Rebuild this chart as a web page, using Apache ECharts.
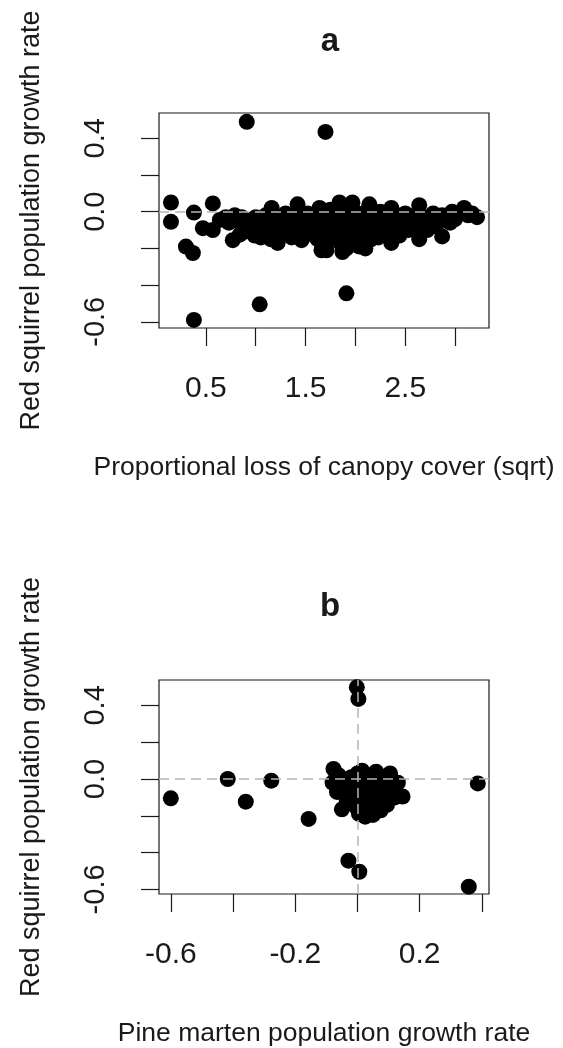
<!DOCTYPE html>
<html>
<head>
<meta charset="utf-8">
<script src="https://cdn.jsdelivr.net/npm/echarts@6/dist/echarts.min.js"></script>
<style>
   html, body { margin: 0; padding: 0; background: #fff; }
   #chart { width: 563px; height: 1048px; }
</style>
</head>
<body>
<div id="chart"></div>
<script>
// ── Panel a: canopy loss (sqrt) vs red squirrel growth rate ──────────────────
const canopyX = [
   0.15, 0.15, 0.38, 0.30, 0.37, 0.38, 0.47, 0.57, 0.57, 0.64, 0.77, 0.79, 0.84, 0.91, 0.96, 1.04, 1.70, 1.91,
   0.70, 0.73, 0.82, 0.86, 0.99, 1.05, 1.15, 1.30,
   0.88, 0.93, 1.00, 1.02, 1.07, 1.10, 1.12, 1.16, 1.18, 1.22, 1.25, 1.27,
   1.30, 1.33, 1.36, 1.38, 1.42, 1.44, 1.46, 1.48, 1.52, 1.54, 1.57, 1.60, 1.62,
   1.64, 1.66, 1.67, 1.70, 1.71, 1.73, 1.75, 1.77, 1.79, 1.81, 1.84, 1.85, 1.87, 1.88, 1.90, 1.91,
   1.93, 1.95, 1.97, 1.98, 2.00, 2.02, 2.04, 2.06, 2.08, 2.10, 2.11, 2.13, 2.14, 2.16, 2.18, 2.20,
   2.23, 2.25, 2.28, 2.30, 2.33, 2.36, 2.36, 2.39, 2.42, 2.44, 2.47, 2.50, 2.53, 2.56,
   2.60, 2.64, 2.64, 2.66, 2.69, 2.72, 2.75, 2.78, 2.81, 2.84, 2.87, 2.87,
   2.95, 2.97, 3.00, 3.05, 3.09, 3.13, 3.17, 3.22
];
const squirrelA = [
   0.05, -0.055, -0.005, -0.19, -0.225, -0.59, -0.09, 0.045, -0.10, -0.045, -0.155, -0.02, -0.125, 0.49, -0.045, -0.505, 0.435, -0.445,
   -0.03, -0.06, -0.05, -0.03, -0.13, -0.14, -0.15, -0.12,
   -0.11, -0.08, -0.03, -0.10, -0.06, -0.02, -0.12, 0.02, -0.07, -0.17, -0.04, -0.11,
   -0.01, -0.08, -0.14, -0.03, 0.04, -0.10, -0.155, -0.05, -0.01, -0.12, -0.07, -0.03, -0.15,
   0.02, -0.21, -0.10, -0.05, -0.21, -0.15, 0.01, -0.08, -0.12, -0.03, 0.05, -0.17, -0.22, -0.07, -0.01, -0.20,
   -0.12, -0.04, 0.05, -0.16, -0.09, -0.01, -0.19, -0.13, -0.06, -0.20, 0.00, -0.10, 0.04, -0.15, -0.04, -0.09,
   -0.14, 0.00, -0.06, -0.11, -0.03, 0.02, -0.17, -0.08, -0.02, -0.13, -0.06, -0.01, -0.10, -0.05,
   -0.02, 0.035, -0.15, -0.08, -0.03, -0.10, -0.05, -0.01, -0.08, -0.04, -0.135, -0.02,
   -0.06, 0.00, -0.04, -0.01, 0.02, -0.02, -0.01, -0.03
];

// ── Panel b: pine marten growth rate vs red squirrel growth rate ─────────────
const martenX = [
   -0.60, -0.417, -0.277, -0.359, -0.157, -0.029, 0.006, 0.358, 0.387, -0.002, 0.003,
   -0.077, -0.06, -0.066, -0.05, -0.04, -0.035, -0.02, -0.015, -0.01, 0.0, 0.0, 0.005,
   0.012, 0.015, 0.02, 0.025, 0.03, 0.035, 0.04, 0.045, 0.05, 0.055, 0.06, 0.065, 0.07,
   0.075, 0.08, 0.085, 0.09, 0.095, 0.105, 0.11, 0.12, 0.13, 0.145, -0.08, -0.07, 0.0
];
const squirrelB = [
   -0.105, 0.0, -0.009, -0.123, -0.217, -0.444, -0.504, -0.585, -0.024, 0.498, 0.435,
   0.055, 0.02, -0.07, -0.165, -0.03, -0.11, 0.01, -0.06, -0.14, 0.03, -0.09, -0.19,
   -0.02, 0.045, -0.12, -0.205, -0.05, 0.02, -0.15, -0.09, -0.195, -0.01, 0.04, -0.12, -0.06,
   -0.17, 0.01, -0.09, -0.03, -0.14, 0.03, -0.06, -0.10, -0.02, -0.095, -0.02, 0.0, -0.16
];

// ── Ejes ─────────────────────────────────────────────────────────────────────
const rangoXA = [0.03, 3.34];
const rangoYA = [-0.634, 0.538];
const rangoXB = [-0.638, 0.423];
const rangoYB = [-0.625, 0.538];

const ticksXA = [0.5, 1.0, 1.5, 2.0, 2.5, 3.0];
const etiquetasXA = [0.5, 1.5, 2.5];
const ticksXB = [-0.6, -0.4, -0.2, 0.0, 0.2, 0.4];
const etiquetasXB = [-0.6, -0.2, 0.2];
const ticksY = [-0.6, -0.4, -0.2, 0.0, 0.2, 0.4];
const etiquetasY = [-0.6, 0.0, 0.4];

const tituloY = "Red squirrel population growth rate";
const tituloXA = "Proportional loss of canopy cover (sqrt)";
const tituloXB = "Pine marten population growth rate";

const fuente = "'Liberation Sans', Arial, sans-serif";
const tinta = "#1a1a1a";

const ejeX = (indice, rango, ticks, etiquetas, nombre) => ({
   type: "value",
   gridIndex: indice,
   min: rango[0],
   max: rango[1],
   name: nombre,
   nameLocation: "middle",
   nameGap: 126,
   nameTextStyle: { fontSize: 26.5, color: tinta, fontFamily: fuente },
   axisLine: { show: false, onZero: false },
   splitLine: { show: false },
   axisTick: { show: true, inside: false, length: 18, customValues: ticks, lineStyle: { color: tinta, width: 1.2 } },
   axisLabel: {
      customValues: etiquetas,
      margin: 46,
      fontSize: 30,
      color: tinta,
      fontFamily: fuente,
      formatter: v => v.toFixed(1)
   }
});

const ejeY = (indice, rango) => ({
   type: "value",
   gridIndex: indice,
   min: rango[0],
   max: rango[1],
   name: tituloY,
   nameLocation: "middle",
   nameGap: 114,
   nameRotate: 90,
   nameTextStyle: { fontSize: 27, color: tinta, fontFamily: fuente },
   axisLine: { show: false, onZero: false },
   splitLine: { show: false },
   axisTick: { show: true, inside: false, length: 18, customValues: ticksY, lineStyle: { color: tinta, width: 1.2 } },
   axisLabel: {
      customValues: etiquetasY,
      rotate: 90,
      margin: 49,
      fontSize: 29,
      color: tinta,
      fontFamily: fuente,
      formatter: v => v.toFixed(1)
   }
});

const lineaGuia = (datos) => ({
   silent: true,
   symbol: "none",
   label: { show: false },
   lineStyle: { type: [10, 6], color: "#b5b5b5", width: 1.5 },
   data: datos
});

const grafica = echarts.init(document.getElementById("chart"));
grafica.setOption({
   animation: false,
   backgroundColor: "#fff",
   title: [
      { text: "a", left: 325, top: 20, textAlign: "center", textStyle: { fontSize: 33, fontWeight: "bold", color: tinta, fontFamily: fuente } },
      { text: "b", left: 325, top: 585, textAlign: "center", textStyle: { fontSize: 33, fontWeight: "bold", color: tinta, fontFamily: fuente } }
   ],
   grid: [
      { left: 159, top: 113, width: 330, height: 215, show: true, borderColor: tinta, borderWidth: 1.2, backgroundColor: "transparent" },
      { left: 159, top: 680, width: 330, height: 214, show: true, borderColor: tinta, borderWidth: 1.2, backgroundColor: "transparent" }
   ],
   xAxis: [
      ejeX(0, rangoXA, ticksXA, etiquetasXA, tituloXA),
      ejeX(1, rangoXB, ticksXB, etiquetasXB, tituloXB)
   ],
   yAxis: [ejeY(0, rangoYA), ejeY(1, rangoYB)],
   series: [
      {
         type: "scatter",
         xAxisIndex: 0,
         yAxisIndex: 0,
         symbolSize: 16,
         itemStyle: { color: "#000", opacity: 1 },
         data: canopyX.map((x, i) => [x, squirrelA[i]]),
         markLine: lineaGuia([{ yAxis: 0 }])
      },
      {
         type: "scatter",
         xAxisIndex: 1,
         yAxisIndex: 1,
         symbolSize: 16,
         itemStyle: { color: "#000", opacity: 1 },
         data: martenX.map((x, i) => [x, squirrelB[i]]),
         markLine: lineaGuia([{ yAxis: 0 }, { xAxis: 0 }])
      }
   ]
});
</script>
</body>
</html>
